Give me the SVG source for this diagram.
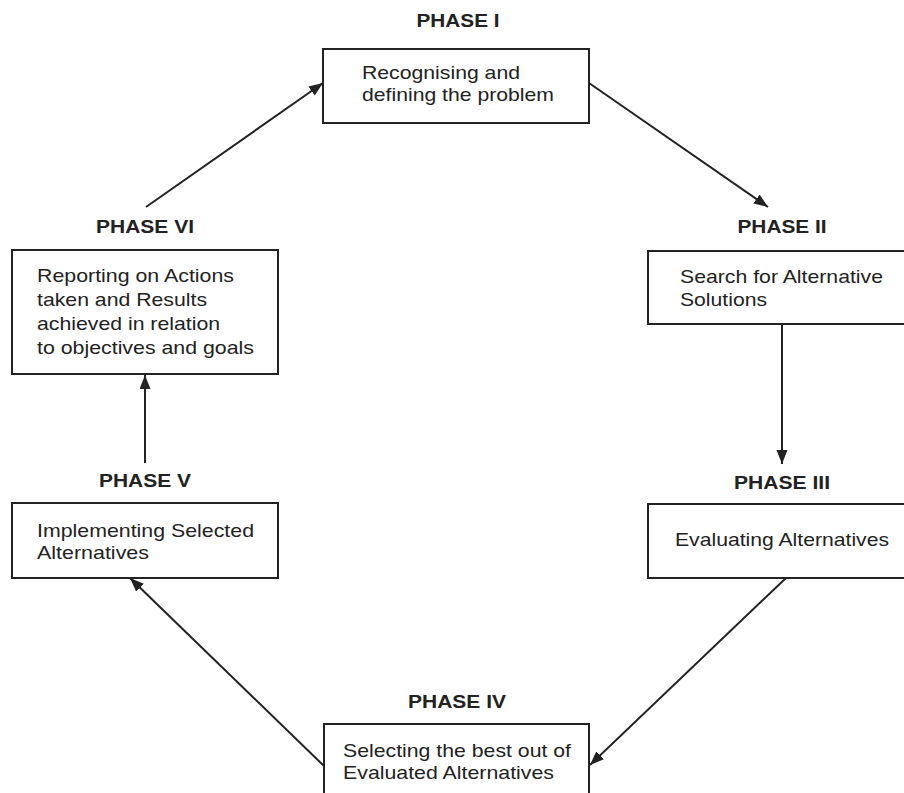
<svg xmlns="http://www.w3.org/2000/svg" width="904" height="793" viewBox="0 0 904 793">
<defs>
<style>
.box{fill:#fff;stroke:#222;stroke-width:2}
.ph{font-family:"Liberation Sans",Arial,sans-serif;font-weight:bold;font-size:19px;fill:#222;text-anchor:middle}
.tx{font-family:"Liberation Sans",Arial,sans-serif;font-size:19px;fill:#222}
.con{stroke:#222;stroke-width:2;fill:none;marker-end:url(#ah)}
</style>
<marker id="ah" markerUnits="userSpaceOnUse" markerWidth="15" markerHeight="12" refX="14" refY="5.5" orient="auto">
<path d="M0,0 L14,5.5 L0,11 z" fill="#222"/>
</marker>
</defs>
<rect width="904" height="793" fill="#fff"/>
<g id="connectors">
<line class="con" x1="146" y1="207" x2="323" y2="83"/>
<line class="con" x1="589" y1="83" x2="768" y2="207"/>
<line class="con" x1="782" y1="324" x2="782" y2="464"/>
<line class="con" x1="786" y1="578" x2="590" y2="765"/>
<line class="con" x1="324" y1="766" x2="130" y2="578"/>
<line class="con" x1="145" y1="463" x2="145" y2="375"/>
</g>
<g id="phase1">
<text class="ph" x="458" y="27" textLength="83" lengthAdjust="spacingAndGlyphs">PHASE I</text>
<rect class="box" x="323" y="49" width="266" height="74"/>
<text class="tx" x="362" y="79" textLength="158" lengthAdjust="spacingAndGlyphs">Recognising and</text>
<text class="tx" x="362" y="101" textLength="192" lengthAdjust="spacingAndGlyphs">defining the problem</text>
</g>
<g id="phase2">
<text class="ph" x="782" y="233" textLength="89" lengthAdjust="spacingAndGlyphs">PHASE II</text>
<rect class="box" x="648" y="251" width="268" height="73"/>
<text class="tx" x="680" y="283" textLength="203" lengthAdjust="spacingAndGlyphs">Search for Alternative</text>
<text class="tx" x="680" y="306" textLength="87" lengthAdjust="spacingAndGlyphs">Solutions</text>
</g>
<g id="phase3">
<text class="ph" x="782" y="489" textLength="96" lengthAdjust="spacingAndGlyphs">PHASE III</text>
<rect class="box" x="648" y="504" width="268" height="74"/>
<text class="tx" x="675" y="546" textLength="214" lengthAdjust="spacingAndGlyphs">Evaluating Alternatives</text>
</g>
<g id="phase4">
<text class="ph" x="457" y="708" textLength="98" lengthAdjust="spacingAndGlyphs">PHASE IV</text>
<rect class="box" x="324" y="724" width="265" height="80"/>
<text class="tx" x="343" y="757" textLength="228" lengthAdjust="spacingAndGlyphs">Selecting the best out of</text>
<text class="tx" x="343" y="779" textLength="211" lengthAdjust="spacingAndGlyphs">Evaluated Alternatives</text>
</g>
<g id="phase5">
<text class="ph" x="145" y="487" textLength="92" lengthAdjust="spacingAndGlyphs">PHASE V</text>
<rect class="box" x="12" y="503" width="266" height="75"/>
<text class="tx" x="37" y="537" textLength="217" lengthAdjust="spacingAndGlyphs">Implementing Selected</text>
<text class="tx" x="37" y="559" textLength="112" lengthAdjust="spacingAndGlyphs">Alternatives</text>
</g>
<g id="phase6">
<text class="ph" x="145" y="233" textLength="98" lengthAdjust="spacingAndGlyphs">PHASE VI</text>
<rect class="box" x="12" y="250" width="266" height="124"/>
<text class="tx" x="37" y="282" textLength="197" lengthAdjust="spacingAndGlyphs">Reporting on Actions</text>
<text class="tx" x="37" y="306" textLength="170" lengthAdjust="spacingAndGlyphs">taken and Results</text>
<text class="tx" x="37" y="330" textLength="183" lengthAdjust="spacingAndGlyphs">achieved in relation</text>
<text class="tx" x="37" y="354" textLength="217" lengthAdjust="spacingAndGlyphs">to objectives and goals</text>
</g>
</svg>
